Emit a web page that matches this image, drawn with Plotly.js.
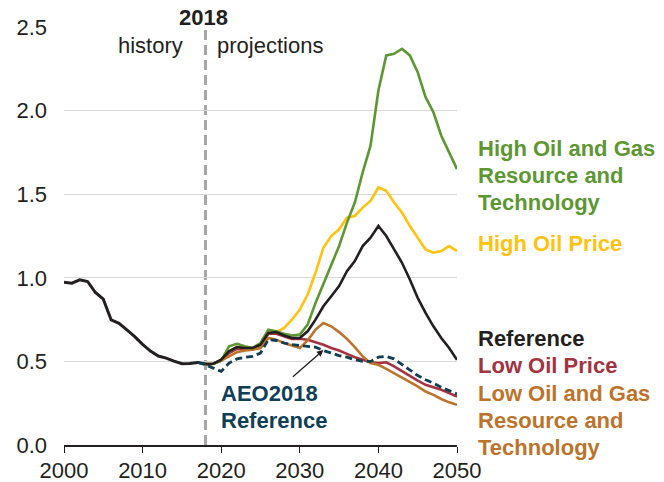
<!DOCTYPE html>
<html>
<head>
<meta charset="utf-8">
<script src="https://cdn.plot.ly/plotly-3.0.1.min.js"></script>
<style>html,body{margin:0;padding:0;background:#fff;}#chart{width:664px;height:482px;}</style>
</head>
<body>
<div id="chart"></div>
<script>
// ---- data ----
const histYears = [2000,2001,2002,2003,2004,2005,2006,2007,2008,2009,2010,2011,2012,2013,2014,2015,2016,2017,2018];
const histValues = [0.974,0.968,0.988,0.978,0.912,0.872,0.748,0.728,0.688,0.648,0.602,0.562,0.532,0.52,0.502,0.486,0.488,0.494,0.484];

const projYears = [2018,2019,2020,2021,2022,2023,2024,2025,2026,2027,2028,2029,2030,2031,2032,2033,2034,2035,2036,2037,2038,2039,2040,2041,2042,2043,2044,2045,2046,2047,2048,2049,2050];
const reference = [0.484,0.486,0.51,0.56,0.585,0.58,0.58,0.60,0.67,0.675,0.655,0.64,0.64,0.68,0.75,0.83,0.89,0.95,1.04,1.10,1.19,1.24,1.31,1.25,1.17,1.09,0.99,0.88,0.79,0.71,0.64,0.58,0.51];
const highOilPrice = [0.484,0.486,0.51,0.56,0.585,0.58,0.58,0.60,0.67,0.675,0.70,0.75,0.81,0.90,1.03,1.18,1.25,1.29,1.36,1.37,1.42,1.46,1.54,1.52,1.45,1.39,1.31,1.24,1.17,1.15,1.16,1.19,1.16];
const highOGRT = [0.484,0.486,0.505,0.59,0.605,0.59,0.58,0.61,0.69,0.68,0.665,0.655,0.66,0.72,0.85,0.96,1.07,1.19,1.33,1.45,1.63,1.79,2.12,2.33,2.34,2.37,2.33,2.23,2.08,1.99,1.85,1.75,1.65];
const lowOilPrice = [0.484,0.486,0.505,0.55,0.575,0.575,0.575,0.595,0.665,0.665,0.65,0.635,0.635,0.63,0.615,0.60,0.58,0.565,0.545,0.525,0.51,0.495,0.49,0.495,0.47,0.44,0.41,0.385,0.36,0.345,0.33,0.31,0.29];
const lowOGRT = [0.484,0.486,0.505,0.53,0.555,0.565,0.57,0.58,0.64,0.63,0.61,0.595,0.58,0.625,0.69,0.73,0.71,0.675,0.635,0.585,0.53,0.49,0.48,0.455,0.43,0.40,0.375,0.35,0.32,0.30,0.275,0.255,0.24];

const aeoYears = [2017,2018,2019,2020,2021,2022,2023,2024,2025,2026,2027,2028,2029,2030,2031,2032,2033,2034,2035,2036,2037,2038,2039,2040,2041,2042,2043,2044,2045,2046,2047,2048,2049,2050];
const aeo2018 = [0.494,0.48,0.46,0.44,0.49,0.515,0.525,0.53,0.55,0.63,0.625,0.61,0.60,0.595,0.592,0.585,0.565,0.55,0.535,0.525,0.51,0.50,0.50,0.525,0.53,0.515,0.48,0.445,0.415,0.39,0.37,0.345,0.325,0.305];

const xTicks = [2000,2010,2020,2030,2040,2050];

// ---- style ----
const C = {green:'#5d9732', yellow:'#ffc20e', black:'#231f20', red:'#a33340', orange:'#bd732a', navy:'#0f3e57', grey:'#a6a6a6'};
const FONT = 'Liberation Sans, Arial, sans-serif';

function line(x, y, color, extra) {
  return Object.assign({x:x, y:y, type:'scatter', mode:'lines', line:{color:color, width:2.6}, hoverinfo:'skip'}, extra||{});
}

const traces = [
  line(projYears, lowOilPrice, C.red),
  line(projYears, lowOGRT, C.orange),
  line(projYears, highOilPrice, C.yellow),
  line(projYears, highOGRT, C.green),
  line(projYears, reference, C.black),
  line(histYears, histValues, C.black, {line:{color:C.black, width:3}}),
  line(aeoYears, aeo2018, C.navy, {line:{color:C.navy, width:2.8, dash:'7px,4px'}})
];

// pixel helpers for paper coords (plot area: x 64..457, y 27..444.7)
const px = p => (p - 64) / 393;
const py = p => (444.7 - p) / 417.7;

function lab(text, xpix, baseline, color, size, bold, anchor) {
  return {xref:'paper', yref:'paper', x:px(xpix), y:py(baseline - 8), xanchor:anchor||'left', yanchor:'middle',
    text: bold ? '<b>'+text+'</b>' : text, showarrow:false,
    font:{family:FONT, size:size, color:color}};
}

const annotations = [
  lab('High Oil and Gas', 476, 156.7, C.green, 22, true),
  lab('Resource and', 476, 183.3, C.green, 22, true),
  lab('Technology', 476, 210, C.green, 22, true),
  lab('High Oil Price', 476, 251.7, C.yellow, 22, true),
  lab('Reference', 476, 346.7, C.black, 22, true),
  lab('Low Oil Price', 476, 373.3, C.red, 22, true),
  lab('Low Oil and Gas', 476, 401, C.orange, 22, true),
  lab('Resource and', 476, 428.3, C.orange, 22, true),
  lab('Technology', 476, 455, C.orange, 22, true),
  lab('AEO2018', 219, 401.7, C.navy, 22, true),
  lab('Reference', 219, 428.3, C.navy, 22, true),
  lab('history', 185, 53, '#231f20', 22, false, 'right'),
  lab('projections', 215, 53, '#231f20', 22, false, 'left'),
  lab('2018', 203, 26, '#231f20', 22, true, 'center'),
  {x:2033, y:0.568, xref:'x', yref:'y', text:'', showarrow:true, ax:-32, ay:28,
   arrowhead:2, arrowsize:1, arrowwidth:1.3, arrowcolor:'#231f20', standoff:0}
];

const layout = {
  width:664, height:482,
  margin:{l:64, r:207, t:27, b:37, pad:0},
  paper_bgcolor:'#ffffff', plot_bgcolor:'#ffffff',
  showlegend:false,
  font:{family:FONT, size:22, color:'#231f20'},
  xaxis:{range:[2000,2050], tickvals:xTicks, ticks:'outside', ticklen:6, tickwidth:1, tickcolor:'#231f20',
    showgrid:false, showline:true, linecolor:'#231f20', linewidth:2, zeroline:false,
    tickfont:{family:FONT, size:22, color:'#231f20'}, ticklabelstandoff:-1, fixedrange:true},
  yaxis:{range:[0,2.5], dtick:0.5, tick0:0, tickformat:'.1f', showgrid:true, gridcolor:'#d9d9d9', gridwidth:1,
    zeroline:false, showline:false, ticks:'', tickfont:{family:FONT, size:22, color:'#231f20'},
    ticklabelstandoff:16, fixedrange:true},
  shapes:[{type:'line', xref:'x', yref:'paper', x0:2018, x1:2018, y0:0, y1:1,
    line:{color:C.grey, width:3, dash:'10px,5px'}, layer:'below'}],
  annotations:annotations
};

Plotly.newPlot('chart', traces, layout, {staticPlot:true, displayModeBar:false});
</script>
</body>
</html>
